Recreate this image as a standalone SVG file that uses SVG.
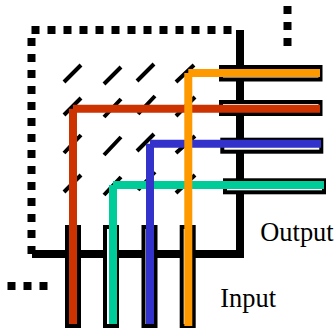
<svg xmlns="http://www.w3.org/2000/svg" width="336" height="332" viewBox="0 0 336 332">
<style>
.frame{fill:none;stroke:#000;stroke-width:8}
.dots{fill:none;stroke:#000;stroke-width:8;stroke-dasharray:8 8}
.diag{stroke:#000;stroke-width:4;fill:none}
.port{fill:#fff;stroke:#000;stroke-width:4}
.wire{fill:none;stroke-width:8}
text{font-family:"Liberation Serif","Times New Roman",serif;font-size:26.400px;fill:#000}
</style>
<rect width="336" height="332" fill="#fff"/>
<g id="frame">
<path class="frame" d="M32 254H240V30"/>
<path class="dots" d="M31.500 38V254"/>
<path class="dots" d="M31.500 30H232"/>
<path class="dots" d="M287.500 6V46"/>
<path class="dots" d="M7.500 286H48"/>
</g>
<g id="crosspoints">
<path class="diag" d="M64 82L81 65M104 84L121 67M137 81L154 64M176 82L194 65"/>
<path class="diag" d="M64 115L81 98M104 117L121 99M138 114L155 96M176 116L195 97"/>
<path class="diag" d="M64 153L81 135M104 155L121 137M137 151L154 134M176 153L195 136"/>
<path class="diag" d="M64 192L81 175M104 195L121 177M138 190L155 172M176 193L195 175"/>
</g>
<g id="input-ports">
<rect class="port" x="67" y="227" width="12" height="99"/>
<rect class="port" x="105" y="227" width="12" height="99"/>
<rect class="port" x="143.500" y="227" width="12" height="99"/>
<rect class="port" x="181.700" y="227" width="12" height="99"/>
</g>
<g id="output-ports">
<rect class="port" x="221" y="67" width="99.500" height="12.500"/>
<rect class="port" x="221" y="102" width="99.500" height="12"/>
<rect class="port" x="222.300" y="139.700" width="99" height="12"/>
<rect class="port" x="225" y="180.300" width="99" height="12"/>
</g>
<g id="connectors">
<path class="wire" stroke="#00CC99" d="M113 324V185M113 185H324"/>
<path class="wire" stroke="#CC3300" d="M73 324V108.700M73 108.700H320"/>
<path class="wire" stroke="#3333CC" d="M150 324V143.700M150 143.700H321"/>
<path class="wire" stroke="#FF9900" d="M188.300 326V73M188.300 73H320"/>
</g>
<g id="labels">
<text x="260.300" y="241">Output</text>
<text x="220.300" y="307">Input</text>
</g>
</svg>
